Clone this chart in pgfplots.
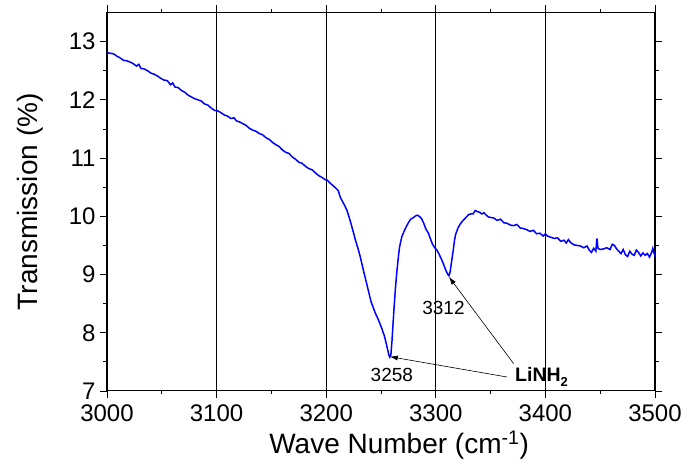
\documentclass[border=0pt]{standalone}
\usepackage{fontspec}
\setmainfont{Liberation Sans}
\usepackage{pgfplots}
\pgfplotsset{compat=1.18}
\usetikzlibrary{arrows.meta}

\pgfplotstableread{
x y
3000 12.81
3003 12.80
3006 12.79
3009 12.75
3012 12.72
3015 12.68
3018 12.67
3021 12.65
3024 12.62
3027 12.58
3029 12.61
3031 12.54
3034 12.53
3037 12.50
3040 12.46
3043 12.44
3046 12.41
3049 12.37
3052 12.34
3055 12.33
3058 12.26
3060 12.29
3062 12.22
3065 12.21
3068 12.16
3071 12.13
3074 12.08
3077 12.05
3080 12.02
3083 12.00
3086 11.98
3089 11.93
3092 11.91
3095 11.86
3098 11.82
3101 11.81
3104 11.78
3107 11.74
3110 11.72
3113 11.68
3116 11.69
3118 11.64
3121 11.62
3124 11.59
3127 11.56
3130 11.51
3133 11.48
3136 11.46
3139 11.42
3142 11.40
3145 11.35
3148 11.32
3151 11.27
3154 11.23
3157 11.20
3160 11.14
3163 11.10
3166 11.08
3169 11.02
3172 10.98
3175 10.93
3178 10.91
3181 10.86
3184 10.82
3187 10.80
3190 10.75
3193 10.70
3196 10.67
3199 10.63
3201 10.62
3203 10.58
3206 10.53
3209 10.48
3211 10.44
3213 10.32
3215 10.25
3217 10.18
3219 10.10
3221 9.98
3223 9.85
3225 9.71
3227 9.57
3229 9.45
3231 9.31
3233 9.15
3235 8.99
3237 8.84
3239 8.68
3241 8.53
3243 8.43
3245 8.33
3247 8.25
3249 8.16
3251 8.06
3253 7.95
3255 7.80
3257 7.63
3258 7.58
3259 7.62
3260 7.85
3261 8.16
3262 8.45
3263 8.72
3264 8.95
3265 9.15
3266 9.33
3267 9.48
3269 9.65
3271 9.74
3273 9.82
3275 9.89
3277 9.95
3279 9.97
3281 10.00
3283 10.02
3285 10.00
3287 9.96
3289 9.88
3291 9.78
3293 9.72
3295 9.62
3297 9.52
3299 9.46
3301 9.42
3303 9.35
3305 9.27
3307 9.18
3309 9.08
3311 9.00
3312 8.98
3313 9.04
3314 9.17
3315 9.30
3316 9.43
3317 9.58
3318 9.68
3320 9.79
3322 9.86
3324 9.91
3326 9.95
3328 9.99
3330 10.03
3332 10.04
3334 10.04
3336 10.10
3338 10.08
3340 10.07
3342 10.04
3344 10.06
3346 10.02
3348 9.99
3350 9.98
3353 9.97
3356 9.93
3359 9.95
3362 9.89
3365 9.88
3368 9.85
3371 9.84
3374 9.86
3377 9.80
3380 9.79
3383 9.77
3386 9.74
3389 9.76
3392 9.70
3395 9.71
3398 9.66
3400 9.70
3402 9.66
3405 9.64
3408 9.62
3411 9.63
3414 9.57
3417 9.59
3419 9.54
3421 9.60
3423 9.55
3426 9.51
3429 9.50
3432 9.49
3435 9.46
3438 9.49
3440 9.42
3442 9.38
3444 9.45
3446 9.40
3447 9.62
3448 9.45
3450 9.43
3453 9.44
3456 9.46
3459 9.43
3461 9.52
3463 9.50
3465 9.44
3467 9.40
3469 9.36
3471 9.43
3473 9.34
3475 9.31
3477 9.40
3479 9.35
3481 9.33
3483 9.42
3485 9.38
3487 9.32
3489 9.37
3491 9.33
3493 9.36
3495 9.30
3497 9.38
3498 9.45
3500 9.31
}\spectrum

\begin{document}
\begin{tikzpicture}
\useasboundingbox (0,0) rectangle (689pt,474pt);
\begin{axis}[
  at={(107pt,83pt)}, anchor=south west,
  width=548pt, height=378.5pt, scale only axis,
  xmin=3000, xmax=3500, ymin=7, ymax=13.5,
  xtick={3000,3100,...,3500}, ytick={7,8,...,13},
  minor x tick num=1, minor y tick num=1,
  tick align=outside,
  major tick length=7pt, minor tick length=3.5pt,
  tick style={black, line width=0.8pt},
  axis line style={line width=1pt},
  xmajorgrids,
  major grid style={black, line width=0.6pt},
  /pgf/number format/assume math mode=true,
  /pgf/number format/1000 sep={},
  tick label style={font=\fontsize{24}{28}\selectfont},
  xticklabel style={yshift=-3pt},
  yticklabel style={xshift=-1pt},
  xlabel={Wave Number (cm\textsuperscript{-1})},
  ylabel={Transmission (\%)},
  label style={font=\fontsize{28}{32}\selectfont},
  xlabel style={at={(axis description cs:0.533,-0.164)}, anchor=base},
  ylabel style={at={(axis description cs:-0.14,0.5)}, anchor=center},
]
\addplot[blue, line width=1.5pt] table[x=x, y=y] {\spectrum};
\node[font=\fontsize{19}{22}\selectfont] at (axis cs:3259.9,7.27) {3258};
\node[font=\fontsize{19}{22}\selectfont] at (axis cs:3307,8.42) {3312};
\node[font=\bfseries\fontsize{19.5}{22}\selectfont, anchor=base west, inner sep=0pt] at (axis cs:3372.3,7.17) {LiNH\raisebox{-5pt}{\fontsize{13}{15}\selectfont 2}};
\draw[-{Latex[length=8pt,width=5pt]}, line width=0.6pt] (axis cs:3365,7.24) -- (axis cs:3258,7.59);
\draw[-{Latex[length=8pt,width=5pt]}, line width=0.6pt] (axis cs:3371,7.47) -- (axis cs:3312,8.96);
\end{axis}
\end{tikzpicture}
\end{document}
